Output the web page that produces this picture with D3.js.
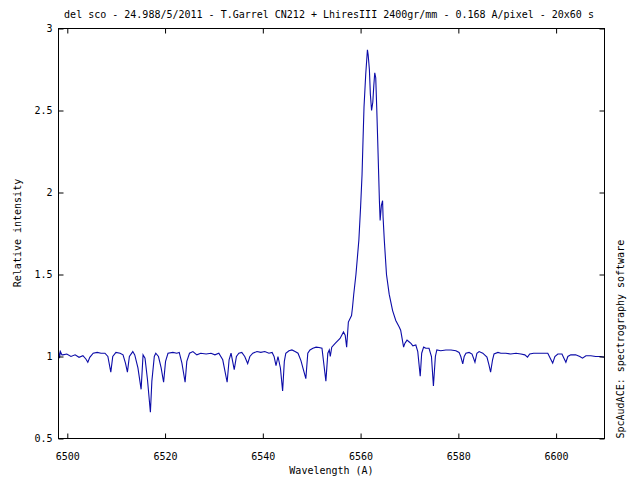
<!DOCTYPE html>
<html><head><meta charset="utf-8">
<script src="https://cdn.jsdelivr.net/npm/d3@7"></script>
<style>
html,body{margin:0;padding:0;background:#fff;}
text{font-family:"DejaVu Sans Mono",monospace;font-size:10px;fill:#000;}
</style></head>
<body>
<svg id="c" width="640" height="480"></svg>
<script>
const titleText = "del sco - 24.988/5/2011 - T.Garrel CN212 + LhiresIII 2400gr/mm - 0.168 A/pixel - 20x60 s";
const xLabel = "Wavelength (A)";
const yLabel = "Relative intensity";
const sideLabel = "SpcAudACE: spectrography software";
const xTicks = [6500, 6520, 6540, 6560, 6580, 6600];
const yTicks = [0.5, 1, 1.5, 2, 2.5, 3];
const wavelength = [
6498.2,6498.4,6498.6,6498.9,6499.1,6499.9,6500.75,6501.6,6502.4,6503.2,6503.8,6504.2,6504.6,6505.3,6506.1,6506.9,6507.7,6508.3,6508.9,6509.3,
6509.95,6510.8,6511.4,6511.9,6512.3,6512.7,6513.4,6513.8,6514.45,6515.1,6515.5,6515.9,6516.4,6517.0,6517.3,6517.8,6518.1,6518.65,6519.2,6519.7,
6520.1,6520.6,6521.6,6522.4,6522.9,6523.45,6524.1,6524.45,6525.0,6525.7,6526.5,6527.3,6528.4,6529.4,6530.2,6531.0,6531.8,6532.7,6533.1,6533.5,
6534.15,6534.6,6535.1,6535.7,6536.3,6536.9,6537.35,6537.95,6538.8,6539.6,6540.4,6541.25,6541.9,6542.3,6542.7,6543.1,6543.6,6544.05,6544.4,6544.7,
6545.35,6545.95,6546.6,6547.2,6547.8,6548.2,6548.8,6549.2,6549.65,6550.25,6550.9,6551.5,6552.1,6552.5,6552.9,6553.3,6553.6,6553.8,6554.1,6554.8,
6555.8,6556.5,6556.85,6557.15,6557.5,6558.15,6558.35,6558.6,6559.05,6559.65,6560.0,6560.3,6560.5,6560.7,6561.05,6561.4,6561.55,6561.8,6562.0,6562.25,
6562.5,6562.7,6562.9,6563.1,6563.3,6563.5,6563.7,6563.85,6564.0,6564.25,6564.5,6564.6,6564.85,6565.3,6565.85,6566.55,6567.2,6567.9,6568.2,
6568.8,6569.05,6569.5,6569.9,6570.3,6570.7,6571.3,6571.7,6572.2,6572.5,6572.9,6573.35,6574.0,6574.5,6574.9,6575.3,6575.6,6576.4,6577.45,
6578.5,6579.5,6580.15,6580.5,6580.9,6581.2,6581.55,6582.2,6582.8,6583.4,6583.8,6584.25,6585.0,6585.85,6586.25,6586.6,6587.0,6587.3,6588.1,6588.7,
6589.7,6590.7,6591.8,6592.8,6593.6,6594.15,6594.6,6595.4,6596.5,6597.5,6598.3,6598.8,6599.3,6599.75,6600.35,6601.2,6601.6,6602.0,6602.4,6603.0,
6604.0,6604.85,6605.4,6606.1,6607.1,6608.1,6609.1,6609.9
];
const intensity = [
1.04,0.99,1.03,1.01,1.01,1.015,1.0,1.01,0.995,1.005,0.985,0.965,0.995,1.02,1.025,1.02,1.02,1.0,0.905,1.0,
1.025,1.02,1.01,0.96,0.905,1.0,1.03,1.01,0.93,0.80,1.01,0.99,0.86,0.66,0.85,1.0,1.02,1.0,0.93,0.843,
0.97,1.02,1.025,1.02,1.025,0.96,0.843,0.97,1.02,1.03,1.01,1.02,1.015,1.02,1.01,1.02,0.98,0.843,0.98,1.02,
0.92,1.0,1.02,1.025,1.0,0.957,1.0,1.02,1.03,1.025,1.03,1.02,1.025,1.0,0.945,1.0,0.93,0.79,0.97,1.02,
1.035,1.04,1.03,1.02,0.975,0.93,0.865,1.02,1.04,1.05,1.057,1.055,1.05,0.95,0.85,1.02,1.04,1.0,1.057,1.08,
1.11,1.15,1.13,1.057,1.21,1.25,1.30,1.38,1.50,1.71,1.91,2.11,2.32,2.52,2.72,2.87,2.84,2.75,2.60,2.50,
2.55,2.65,2.73,2.70,2.52,2.32,2.11,1.95,1.83,1.92,1.95,1.85,1.71,1.50,1.38,1.28,1.22,1.18,1.16,
1.057,1.08,1.10,1.09,1.08,1.065,1.07,1.03,0.88,1.02,1.057,1.05,1.05,1.0,0.82,1.0,1.04,1.035,1.04,
1.04,1.035,1.025,1.0,0.955,1.0,1.02,1.025,1.015,0.965,1.02,1.03,1.02,0.996,0.95,0.905,0.98,1.016,1.025,1.02,
1.02,1.015,1.02,1.015,1.01,0.996,1.015,1.02,1.02,1.02,1.02,0.99,0.96,1.0,1.015,1.015,0.99,0.965,1.0,1.01,
1.01,1.0,0.99,1.005,1.005,1.0,1.0,0.995
];

const svg = d3.select("#c");
const L = 58.5, R = 604.5, T = 28.5, B = 438.5;
const x = d3.scaleLinear().domain([6498.2, 6609.9]).range([L, R]);
const y = d3.scaleLinear().domain([0.5, 3]).range([B, T]);

svg.append("rect").attr("width",640).attr("height",480).attr("fill","#fff");

// spectrum
const pts = wavelength.map((w,i)=>[w,intensity[i]]);
svg.append("path").datum(pts)
  .attr("fill","none").attr("stroke","#0c0ca8").attr("stroke-width",1.1)
  .attr("d", d3.line().x(d=>x(d[0])).y(d=>y(d[1])));

// axes (ticks inward, mirrored)
const ax = (g)=>g.selectAll(".domain").remove();
svg.append("g").attr("transform",`translate(0,${B})`)
  .call(d3.axisBottom(x).tickValues(xTicks).tickSizeInner(-5).tickSizeOuter(0).tickPadding(14).tickFormat(d3.format("d")))
  .call(ax);
svg.append("g").attr("transform",`translate(0,${T})`)
  .call(d3.axisTop(x).tickValues(xTicks).tickSizeInner(-5).tickSizeOuter(0).tickFormat(""))
  .call(ax);
svg.append("g").attr("transform",`translate(${L},0)`)
  .call(d3.axisLeft(y).tickValues(yTicks).tickSizeInner(-5).tickSizeOuter(0).tickPadding(6).tickFormat(d=>String(d)))
  .call(ax);
svg.append("g").attr("transform",`translate(${R},0)`)
  .call(d3.axisRight(y).tickValues(yTicks).tickSizeInner(-5).tickSizeOuter(0).tickFormat(""))
  .call(ax);
svg.selectAll(".tick line").attr("stroke","#000");
svg.selectAll(".tick text").style("font-family","'DejaVu Sans Mono',monospace").style("font-size","10px").attr("fill","#000");

// frame
svg.append("rect").attr("x",L).attr("y",T).attr("width",R-L).attr("height",B-T)
  .attr("fill","none").attr("stroke","#000").attr("stroke-width",1);

// texts
svg.append("text").attr("x",(65+593)/2).attr("y",18).attr("text-anchor","middle").text(titleText);
svg.append("text").attr("x",(L+R)/2).attr("y",474).attr("text-anchor","middle").text(xLabel);
svg.append("text").attr("transform","translate(21,233) rotate(-90)").attr("text-anchor","middle").text(yLabel);
svg.append("text").attr("transform",`translate(624,${B}) rotate(-90)`).attr("text-anchor","start").text(sideLabel);
</script>
</body></html>
